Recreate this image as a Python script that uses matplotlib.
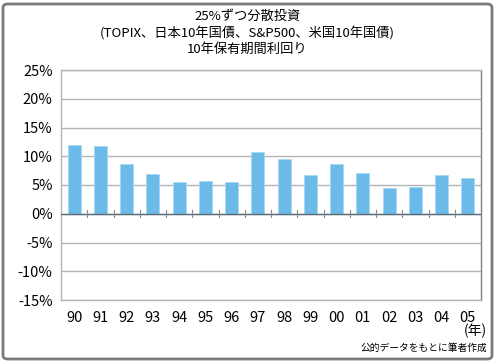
import numpy as np
import matplotlib
matplotlib.use('Agg')
import matplotlib.pyplot as plt
from matplotlib.patches import FancyBboxPatch
from matplotlib.ticker import FuncFormatter

plt.rcParams['font.family'] = ['Noto Sans CJK JP', 'DejaVu Sans']

# データ
years = ['90', '91', '92', '93', '94', '95', '96', '97', '98', '99',
         '00', '01', '02', '03', '04', '05']
returns = [12.0, 11.8, 8.7, 6.85, 5.5, 5.7, 5.5, 10.7, 9.5, 6.7,
           8.7, 7.1, 4.4, 4.7, 6.7, 6.2]

title = '25%ずつ分散投資\n(TOPIX、日本10年国債、S&P500、米国10年国債)\n10年保有期間利回り'

fig = plt.figure(figsize=(4.95, 3.62), dpi=100)
ax = fig.add_axes([61 / 495, 1 - 300 / 362, 420 / 495, 230 / 362])

x = np.arange(len(years))
ax.bar(x, returns, width=0.5, color='#6BBAE8', edgecolor='#A8D8F4', linewidth=0.6, zorder=3)

ax.set_xlim(-0.5, len(years) - 0.5)
ax.set_ylim(-15, 25)
ax.set_yticks(np.arange(-15, 26, 5))
ax.yaxis.set_major_formatter(FuncFormatter(lambda v, p: '%d%%' % v))
ax.grid(axis='y', color='#B4B4B4', linewidth=1.0, zorder=0)
ax.tick_params(axis='y', length=0, labelsize=10.5, pad=6)

# x軸ラベルは下に、目盛は0のライン上
ax.set_xticks(x)
ax.set_xticklabels(years)
ax.tick_params(axis='x', length=0, labelsize=10.5, pad=8)
ax.axhline(0, color='#5A6E7E', linewidth=1.0, zorder=4)
for i in range(1, len(years)):
    ax.plot([i - 0.5, i - 0.5], [-0.6, 0.6], color='#888888', linewidth=0.8, zorder=4)

for s in ['top', 'bottom', 'left']:
    ax.spines[s].set_color('#B4B4B4')
    ax.spines[s].set_linewidth(1.0)
ax.spines['right'].set_color('#808080')
ax.spines['right'].set_linewidth(1.0)

fig.text(0.5, 1 - 33 / 362, title, ha='center', va='center', fontsize=9.5, linespacing=1.3)
fig.text(487 / 495, 1 - 331 / 362, '(年)', ha='right', va='center', fontsize=10)
fig.text(487 / 495, 1 - 348 / 362, '公的データをもとに筆者作成', ha='right', va='center', fontsize=7)

border = FancyBboxPatch((3 / 495, 3 / 362), 489 / 495, 355 / 362,
                        boxstyle='round,pad=0,rounding_size=0.01',
                        transform=fig.transFigure, fill=False,
                        edgecolor='#7A7A7A', linewidth=2.0)
fig.patches.append(border)

plt.savefig('out.png', dpi=100)
